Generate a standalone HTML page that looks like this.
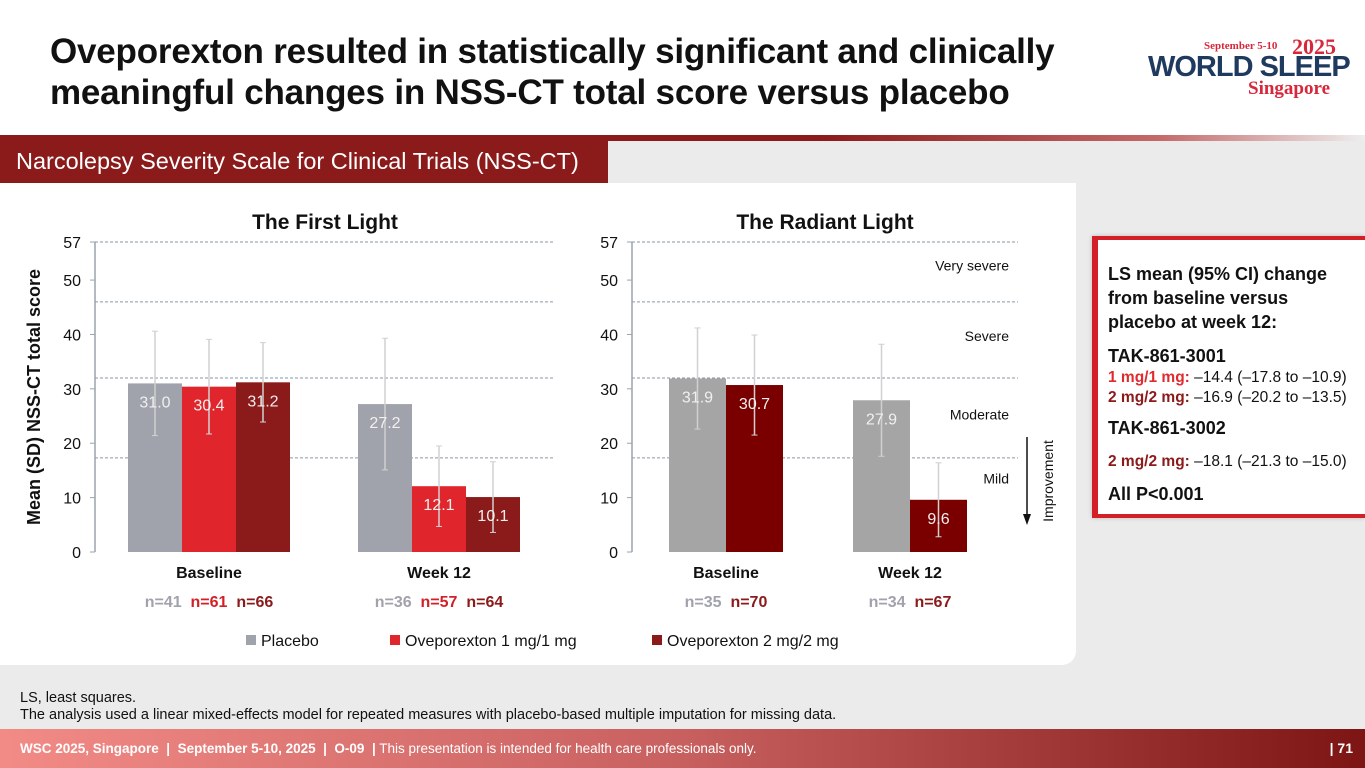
<!DOCTYPE html>
<html><head><meta charset="utf-8"><style>
*{margin:0;padding:0;box-sizing:border-box}
body{width:1365px;height:768px;overflow:hidden;background:#ebebeb;font-family:"Liberation Sans",sans-serif;position:relative}
#top{position:absolute;left:0;top:0;width:1365px;height:136px;background:#fff}
h1{position:absolute;left:50px;top:31px;font-size:35px;line-height:41px;font-weight:bold;color:#111;letter-spacing:-0.2px}
#redline{position:absolute;left:0;top:135px;width:1365px;height:6px;background:linear-gradient(90deg,#8b1a1a 60%,#c46a6a 85%,#eee)}
#sect{position:absolute;left:0;top:140px;width:608px;height:43px;background:#8b1a1a;color:#fff;font-size:23.5px;line-height:43px;padding-left:16px}
#panel{position:absolute;left:0;top:183px;width:1076px;height:482px;background:#fff;border-bottom-right-radius:14px}
#box{position:absolute;left:1092px;top:236px;width:273px;height:282px;background:#fff;border-left:6px solid #d32027;border-top:4px solid #d32027;border-bottom:4px solid #d32027;padding:22px 0 0 10px;font-size:15.5px;color:#111;box-shadow:0 0 4px #bbb}
#box .h{font-weight:bold;font-size:18px;line-height:24px}
#box .r1{color:#e02a30;font-weight:bold}#box .r2{color:#8b1a1a;font-weight:bold}
#notes{position:absolute;left:20px;top:690px;font-size:14.5px;line-height:17px;color:#111}
#foot{position:absolute;left:0;top:729px;width:1365px;height:39px;background:linear-gradient(90deg,#f28b86,#c86060 50%,#7d1515);color:#fff;font-size:13.5px;line-height:39px;padding-left:20px}
#foot b{font-weight:bold}
#pg{position:absolute;right:12px;top:0;font-weight:bold;font-size:14px}
</style></head><body>
<div id="top"></div>
<h1>Oveporexton resulted in statistically significant and clinically<br>meaningful changes in NSS-CT total score versus placebo</h1>
<div style="position:absolute;left:1148px;top:38px;width:210px;height:62px">
 <div style="position:absolute;left:56px;top:2px;color:#d8263a;font-family:'Liberation Serif',serif;font-weight:bold;font-size:11px">September 5-10</div>
 <div style="position:absolute;left:144px;top:-4px;color:#d8263a;font-family:'Liberation Serif',serif;font-weight:bold;font-size:22px">2025</div>
 <div style="position:absolute;left:0;top:13px;color:#1e3a5f;font-weight:bold;font-size:29px;letter-spacing:-1px">WORLD SLEEP</div>
 <div style="position:absolute;left:100px;top:40px;color:#d8263a;font-family:'Liberation Serif',serif;font-weight:bold;font-size:19px">Singapore</div>
</div>
<div id="redline"></div>
<div id="panel"></div>
<div id="sect">Narcolepsy Severity Scale for Clinical Trials (NSS-CT)</div>
<svg id="chart" width="1365" height="768" style="position:absolute;left:0;top:0"></svg>
<div id="box">
 <div class="h" style="margin-bottom:10px">LS mean (95% CI) change<br>from baseline versus<br>placebo at week 12:</div>
 <div class="h">TAK-861-3001</div>
 <div style="line-height:20px"><span class="r1">1 mg/1 mg:</span> –14.4 (–17.8 to –10.9)</div>
 <div style="line-height:20px;margin-bottom:8px"><span class="r2">2 mg/2 mg:</span> –16.9 (–20.2 to –13.5)</div>
 <div class="h" style="margin-bottom:12px">TAK-861-3002</div>
 <div style="line-height:20px;margin-bottom:10px"><span class="r2">2 mg/2 mg:</span> –18.1 (–21.3 to –15.0)</div>
 <div class="h">All P&lt;0.001</div>
</div>
<div id="notes">LS, least squares.<br>The analysis used a linear mixed-effects model for repeated measures with placebo-based multiple imputation for missing data.</div>
<div id="foot"><b>WSC 2025, Singapore &nbsp;|&nbsp; September 5-10, 2025 &nbsp;|&nbsp; O-09 &nbsp;|</b> This presentation is intended for health care professionals only.<span id="pg">| 71</span></div>
<script>
const yTicks=[0,10,20,30,40,50,57];
const severityCuts=[57,46,32,17.3];
const c1Groups=["Baseline","Week 12"];
const c1Means=[[31.0,30.4,31.2],[27.2,12.1,10.1]];
const c1SD=[[9.6,8.7,7.3],[12.1,7.4,6.5]];
const c1N=[["n=41","n=61","n=66"],["n=36","n=57","n=64"]];
const c2Groups=["Baseline","Week 12"];
const c2Means=[[31.9,30.7],[27.9,9.6]];
const c2SD=[[9.3,9.2],[10.3,6.8]];
const c2N=[["n=35","n=70"],["n=34","n=67"]];
const sevLabels=["Very severe","Severe","Moderate","Mild"];
const sevVals=[51.8,38.8,24.4,12.6];
const NS="http://www.w3.org/2000/svg";
const svg=document.getElementById('chart');
const y=v=>552-v*(310/57);
function el(t,a,txt){const e=document.createElementNS(NS,t);for(const k in a)e.setAttribute(k,a[k]);if(txt!=null)e.textContent=txt;svg.appendChild(e);return e;}
function chart(ax,x1,title,groups,means,sds,ns,cols,nCols,starts,bw){
 let e=el('text',{x:(ax+x1)/2,y:229,'text-anchor':'middle','font-size':21,'font-weight':'bold',fill:'#111'},title);
 
 severityCuts.forEach(v=>{e=el('line',{x1:ax,x2:x1,y1:y(v),y2:y(v),stroke:'#8a96a6','stroke-dasharray':'3,2','stroke-width':1});
  });
 e=el('line',{x1:ax,x2:ax,y1:y(57),y2:552,stroke:'#9aa3ad','stroke-width':1.5});
 
 yTicks.forEach(v=>{el('line',{x1:ax-5,x2:ax,y1:y(v),y2:y(v),stroke:'#9aa3ad'});
  e=el('text',{x:ax-14,y:y(v)+6,'text-anchor':'end','font-size':16,fill:'#111'},v);
  });
 groups.forEach((g,gi)=>{
  means[gi].forEach((m,si)=>{
   const x=starts[gi]+si*bw;
   e=el('rect',{x:x,y:y(m),width:bw,height:552-y(m),fill:cols[si]});
   
   const cx=x+bw/2,t=y(m+sds[gi][si]),b=y(m-sds[gi][si]);
   el('line',{x1:cx,x2:cx,y1:t,y2:b,stroke:'#d0d0d0','stroke-width':1.5});
   el('line',{x1:cx-3,x2:cx+3,y1:t,y2:t,stroke:'#d0d0d0'});el('line',{x1:cx-3,x2:cx+3,y1:b,y2:b,stroke:'#d0d0d0'});
   e=el('text',{x:cx,y:y(m)+24,'text-anchor':'middle','font-size':16,fill:'#f0f0f0'},m.toFixed(1));
   
  });
  const gc=starts[gi]+means[gi].length*bw/2;
  e=el('text',{x:gc,y:578,'text-anchor':'middle','font-size':16,'font-weight':'bold',fill:'#111'},g);
  
  e=el('text',{x:gc,y:607,'text-anchor':'middle','font-size':16,'font-weight':'bold'});
  
  ns[gi].forEach((n,i)=>{const s=document.createElementNS(NS,'tspan');s.setAttribute('fill',nCols[i]);s.textContent=(i?'  ':'')+n;e.appendChild(s);});
  e.setAttribute('xml:space','preserve');e.style.whiteSpace='pre';
 });
}
chart(95,555,"The First Light",c1Groups,c1Means,c1SD,c1N,['#a0a3ab','#e0262c','#8b1a1a'],['#a0a3ab','#d32027','#8b1a1a'],[128,358],54);
chart(632,1018,"The Radiant Light",c2Groups,c2Means,c2SD,c2N,['#a5a5a5','#7a0000'],['#a0a3ab','#8b1a1a'],[669,853],57);
sevLabels.forEach((s,i)=>{const e=el('text',{x:1009,y:y(sevVals[i]),'text-anchor':'end','font-size':14,fill:'#111'},s);
 });
let a=el('line',{x1:1027,x2:1027,y1:437,y2:516,stroke:'#111','stroke-width':1.5});

el('polygon',{points:'1023,514 1031,514 1027,525',fill:'#111'});
a=el('text',{x:1053,y:481,'text-anchor':'middle','font-size':14,fill:'#111',transform:'rotate(-90 1053 481)'},'Improvement');

a=el('text',{x:40,y:397,'text-anchor':'middle','font-size':18,'font-weight':'bold',fill:'#111',transform:'rotate(-90 40 397)'},'Mean (SD) NSS-CT total score');

const legNames=["Placebo","Oveporexton 1 mg/1 mg","Oveporexton 2 mg/2 mg"];
const legCols=['#a0a3ab','#e0262c','#8b1a1a'];const legX=[246,390,652];
legNames.forEach((n,i)=>{let r=el('rect',{x:legX[i],y:635,width:10,height:10,fill:legCols[i]});
 
 r=el('text',{x:legX[i]+15,y:646,'font-size':16,fill:'#111'},n);
 });
</script>
</body></html>
